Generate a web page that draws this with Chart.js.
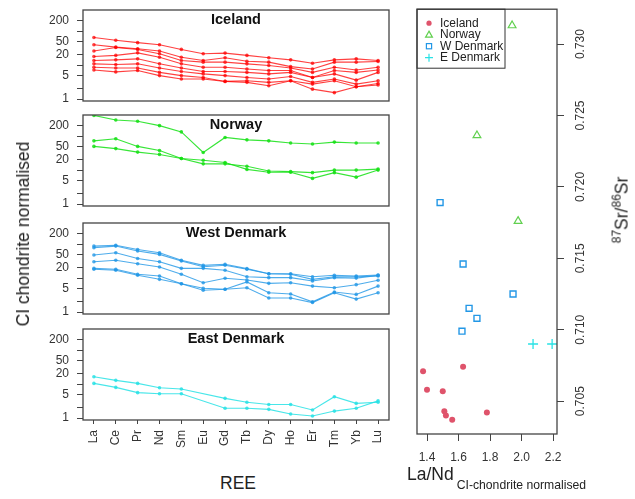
<!DOCTYPE html>
<html>
<head>
<meta charset="utf-8">
<script src="https://cdn.jsdelivr.net/npm/chart.js@4.4.1/dist/chart.umd.min.js"></script>
<style>
  body { margin: 0; background: #fff; }
  #wrap { position: relative; width: 635px; height: 499px; overflow: hidden;
          font-family: "Liberation Sans", Arial, sans-serif; color: #222; }
  canvas { position: absolute; }
  .lbl { position: absolute; white-space: nowrap; font-size: 17.5px; line-height: 20px; }
  .rot { transform: translate(-50%, -50%) rotate(-90deg); }
</style>
</head>
<body>
<div id="wrap">
  <canvas id="ice" width="375" height="109" style="left:20px;top:1px"></canvas>
  <canvas id="nor" width="375" height="109" style="left:20px;top:106px"></canvas>
  <canvas id="wden" width="375" height="109" style="left:20px;top:214px"></canvas>
  <canvas id="eden" width="375" height="140" style="left:20px;top:320px"></canvas>
  <canvas id="sr" width="235" height="499" style="left:400px;top:0px"></canvas>

  <div class="lbl rot" style="left:23px;top:234px">CI chondrite normalised</div>
  <div class="lbl" style="left:238px;top:483px;transform:translate(-50%,-50%)">REE</div>
  <div class="lbl" style="left:407px;top:464px">La/Nd<span style="font-size:12.2px;vertical-align:-9px;margin-left:3px">CI-chondrite normalised</span></div>
  <div class="lbl rot" style="left:619px;top:210px"><sup style="font-size:12px">87</sup>Sr/<sup style="font-size:12px">86</sup>Sr</div>
</div>

<script>
// ---- data ----
const ree = ['La', 'Ce', 'Pr', 'Nd', 'Sm', 'Eu', 'Gd', 'Tb', 'Dy', 'Ho', 'Er', 'Tm', 'Yb', 'Lu'];

const icelandREE = [
  [65, 54, 46, 40, 29, 21.6, 22.6, 19.3, 16.4, 14.3, 11.3, 14.3, 15.3, 13.7],
  [40, 34, 30.5, 26, 17, 13.7, 16.4, 13, 12.2, 9, 7.7, 12.2, 12.2, 12.8],
  [26, 33, 29, 21.6, 13.7, 12.2, 12.2, 10.9, 9.7, 8.2, 6.1, 8.6, 7.2, 8.6],
  [18, 19.3, 23, 17, 10.9, 8.6, 8.6, 7.7, 6.9, 6.9, 4.3, 6.9, 6.1, 7.2],
  [13.7, 14.3, 15.3, 10.9, 8.2, 6.5, 6.5, 6.1, 5.5, 6.1, 4.3, 5.5, 3.6, 6.1],
  [10.9, 10.4, 10.9, 8.2, 6.5, 5.5, 4.9, 4.3, 3.9, 4.6, 3.1, 3.9, 2.75, 3.45],
  [8.6, 8.2, 8.2, 6.1, 4.9, 4.3, 3.3, 3.45, 3.1, 3.45, 2.75, 3.45, 2.3, 2.86],
  [7.2, 6.3, 6.9, 4.9, 3.9, 3.9, 3.3, 3.1, 2.45, 3.45, 1.95, 1.54, 2.3, 2.6]
];

const norwayREE = [
  [410, 300, 275, 205, 134, 33, 92, 78, 73, 63, 59, 67, 63, 63],
  [73, 84, 50, 38, 22, 15.3, 15.3, 13, 9.4, 9, 8.4, 10, 10, 10.7],
  [50, 43, 34, 29, 22, 19.6, 16.7, 10.5, 8.6, 8.6, 5.7, 8.4, 6.2, 10]
];

const westDenmarkREE = [
  [88, 93, 70, 56, 33.5, 23.8, 25.5, 19, 13.5, 13.5, 11, 12.1, 11.5, 12.3],
  [79, 88, 63, 50, 32, 21.7, 24, 18.2, 13.5, 13, 9.2, 11, 11, 11.5],
  [48, 56, 38, 30.5, 19.4, 19.4, 17, 11, 10.3, 10.3, 8.2, 10.3, 10, 12],
  [30.5, 33.5, 26.5, 21.2, 13, 7.3, 9.9, 8.8, 7, 7.3, 5.8, 5.2, 6.4, 8.6],
  [19.4, 18.2, 13, 11.5, 6.8, 4.4, 4.7, 7.7, 3.7, 3.4, 2.0, 3.9, 3.3, 5.8],
  [18.2, 17, 12.1, 9.2, 6.8, 5.0, 4.7, 5.2, 2.6, 2.6, 1.9, 3.7, 2.4, 3.7]
];

const eastDenmarkREE = [
  [16.5, 12.9, 10.5, 7.8, 7.2, null, 3.8, 2.9, 2.5, 2.5, 1.72, 4.25, 2.7, 2.9],
  [10.5, 8.0, 5.6, 5.2, 5.2, null, 1.93, 1.93, 1.8, 1.31, 1.15, 1.6, 1.93, 3.2]
];

const logTicks = [1, 2, 5, 10, 20, 50, 100, 200];
const logTickLabels = ['1', '', '5', '', '20', '50', '', '200'];

// La/Nd vs 87Sr/86Sr
const icelandLaNd = [1.375, 1.629, 1.40, 1.50, 1.51, 1.52, 1.56, 1.78];
const icelandSr = [0.7071, 0.7074, 0.7058, 0.7057, 0.7043, 0.7040, 0.7037, 0.7042];
const norwayLaNd = [1.94, 1.717, 1.978];
const norwaySr = [0.7313, 0.7236, 0.7176];
const wDenmarkLaNd = [1.483, 1.629, 1.946, 1.667, 1.717, 1.622];
const wDenmarkSr = [0.7189, 0.7146, 0.7125, 0.7115, 0.7108, 0.7099];
const eDenmarkLaNd = [2.073, 2.194];
const eDenmarkSr = [0.7090, 0.7090];

const laNdTicks = [1.4, 1.6, 1.8, 2.0, 2.2];
const srTicks = [0.705, 0.710, 0.715, 0.720, 0.725, 0.730];

// ---- common ----
Chart.defaults.font.family = '"Liberation Sans", Arial, sans-serif';
Chart.defaults.font.size = 12;
Chart.defaults.color = '#333';

const boxColour = '#444';

function framePlugin(title) {
  return {
    id: 'frame',
    afterDraw(chart) {
      const a = chart.chartArea, ctx = chart.ctx;
      ctx.save();
      ctx.strokeStyle = boxColour;
      ctx.lineWidth = 1.3;
      ctx.strokeRect(a.left, a.top, a.right - a.left, a.bottom - a.top);
      if (title) {
        ctx.fillStyle = '#111';
        ctx.font = 'bold 14.5px "Liberation Sans", Arial, sans-serif';
        ctx.textAlign = 'center';
        ctx.textBaseline = 'middle';
        ctx.fillText(title, (a.left + a.right) / 2, a.top + 10);
      }
      ctx.restore();
    }
  };
}

function spider(id, rows, colour, title, showX) {
  new Chart(document.getElementById(id), {
    type: 'line',
    data: {
      labels: ree,
      datasets: rows.map(r => ({
        data: r,
        borderColor: colour,
        backgroundColor: colour,
        pointBackgroundColor: colour,
        borderWidth: 1.1,
        pointRadius: 1.8,
        pointBorderWidth: 0,
        spanGaps: true,
        tension: 0
      }))
    },
    options: {
      responsive: false,
      animation: false,
      devicePixelRatio: 1,
      events: [],
      layout: { padding: { left: 0, right: 6, top: 9, bottom: showX ? 0 : 9 } },
      plugins: { legend: { display: false }, tooltip: { enabled: false } },
      scales: {
        x: {
          display: showX,
          offset: true,
          grid: { display: true, drawOnChartArea: false, tickLength: 4, tickColor: boxColour, offset: false },
          border: { display: false },
          ticks: { autoSkip: false, minRotation: 90, maxRotation: 90, padding: 6, color: '#333' },
          afterFit(s) {
            if (showX) s.height = 40;
            s.paddingLeft = 0; s.paddingRight = 0;
          }
        },
        y: {
          type: 'logarithmic',
          min: 0.873,
          max: 422,
          grid: { display: true, drawOnChartArea: false, tickLength: 6, tickColor: boxColour },
          border: { display: false },
          ticks: {
            autoSkip: false,
            padding: 8,
            color: '#333',
            callback: (v, i) => logTickLabels[i]
          },
          afterBuildTicks(s) { s.ticks = logTicks.map(v => ({ value: v })); },
          afterFit(s) { s.width = 63; s.paddingTop = 0; s.paddingBottom = 0; }
        }
      }
    },
    plugins: [framePlugin(title)]
  });
}

spider('ice', icelandREE, 'rgba(255,0,0,0.75)', 'Iceland', false);
spider('nor', norwayREE, 'rgba(20,225,20,0.85)', 'Norway', false);
spider('wden', westDenmarkREE, 'rgba(34,151,230,0.8)', 'West Denmark', false);
spider('eden', eastDenmarkREE, 'rgba(40,226,229,0.85)', 'East Denmark', true);

// ---- scatter ----
function pts(xs, ys) { return xs.map((x, i) => ({ x: x, y: ys[i] })); }

function drawSymbol(ctx, style, x, y, colour) {
  ctx.strokeStyle = colour;
  ctx.fillStyle = colour;
  ctx.lineWidth = 1.2;
  ctx.beginPath();
  if (style === 'circle') {
    ctx.arc(x, y, 2.6, 0, Math.PI * 2);
    ctx.fill();
  } else if (style === 'triangle') {
    ctx.moveTo(x, y - 3.6);
    ctx.lineTo(x + 3.4, y + 2.4);
    ctx.lineTo(x - 3.4, y + 2.4);
    ctx.closePath();
    ctx.stroke();
  } else if (style === 'rect') {
    ctx.strokeRect(x - 2.6, y - 2.6, 5.2, 5.2);
  } else {
    ctx.moveTo(x - 4, y); ctx.lineTo(x + 4, y);
    ctx.moveTo(x, y - 4); ctx.lineTo(x, y + 4);
    ctx.stroke();
  }
}

const legendBox = {
  id: 'legendBox',
  afterDraw(chart) {
    const { ctx, chartArea: a } = chart;
    ctx.save();
    ctx.strokeStyle = '#333';
    ctx.lineWidth = 1;
    ctx.strokeRect(a.left, a.top, 88, 59);
    ctx.font = '12px "Liberation Sans", Arial, sans-serif';
    ctx.textBaseline = 'middle';
    chart.data.datasets.forEach((ds, i) => {
      const y = a.top + 14 + i * 11.5;
      drawSymbol(ctx, ds.pointStyle, a.left + 12, y, ds.borderColor);
      ctx.fillStyle = '#222';
      ctx.fillText(ds.label, a.left + 23, y);
    });
    ctx.restore();
  }
};

new Chart(document.getElementById('sr'), {
  type: 'scatter',
  data: {
    datasets: [
      { label: 'Iceland', data: pts(icelandLaNd, icelandSr), pointStyle: 'circle',
        borderColor: '#DF536B', backgroundColor: '#DF536B', pointRadius: 3, borderWidth: 0 },
      { label: 'Norway', data: pts(norwayLaNd, norwaySr), pointStyle: 'triangle',
        borderColor: '#61D04F', backgroundColor: 'rgba(0,0,0,0)', pointRadius: 4.5, borderWidth: 1.2 },
      { label: 'W Denmark', data: pts(wDenmarkLaNd, wDenmarkSr), pointStyle: 'rect',
        borderColor: '#2297E6', backgroundColor: 'rgba(0,0,0,0)', pointRadius: 4.2, borderWidth: 1.4 },
      { label: 'E Denmark', data: pts(eDenmarkLaNd, eDenmarkSr), pointStyle: 'cross',
        borderColor: '#28E2E5', backgroundColor: '#28E2E5', pointRadius: 5, borderWidth: 1.3 }
    ]
  },
  options: {
    responsive: false,
    animation: false,
    devicePixelRatio: 1,
    events: [],
    layout: { padding: { left: 17, right: 30, top: 8, bottom: 35 } },
    plugins: { legend: { display: false }, tooltip: { enabled: false } },
    scales: {
      x: {
        type: 'linear',
        min: 1.3365,
        max: 2.225,
        grid: { display: true, drawOnChartArea: false, tickLength: 7, tickColor: boxColour },
        border: { display: false },
        ticks: { autoSkip: false, padding: 9, color: '#333', callback: v => v.toFixed(1) },
        afterBuildTicks(s) { s.ticks = laNdTicks.map(v => ({ value: v })); },
        afterFit(s) { s.height = 30; }
      },
      y: {
        type: 'linear',
        position: 'right',
        min: 0.7027,
        max: 0.73244,
        grid: { display: true, drawOnChartArea: false, tickLength: 7, tickColor: boxColour },
        border: { display: false },
        ticks: { autoSkip: false, padding: 2, minRotation: 90, maxRotation: 90, crossAlign: 'center',
                 color: '#333', callback: v => v.toFixed(3) },
        afterBuildTicks(s) { s.ticks = srTicks.map(v => ({ value: v })); },
        afterFit(s) { s.width = 48; }
      }
    }
  },
  plugins: [framePlugin(null), legendBox]
});
</script>
</body>
</html>
